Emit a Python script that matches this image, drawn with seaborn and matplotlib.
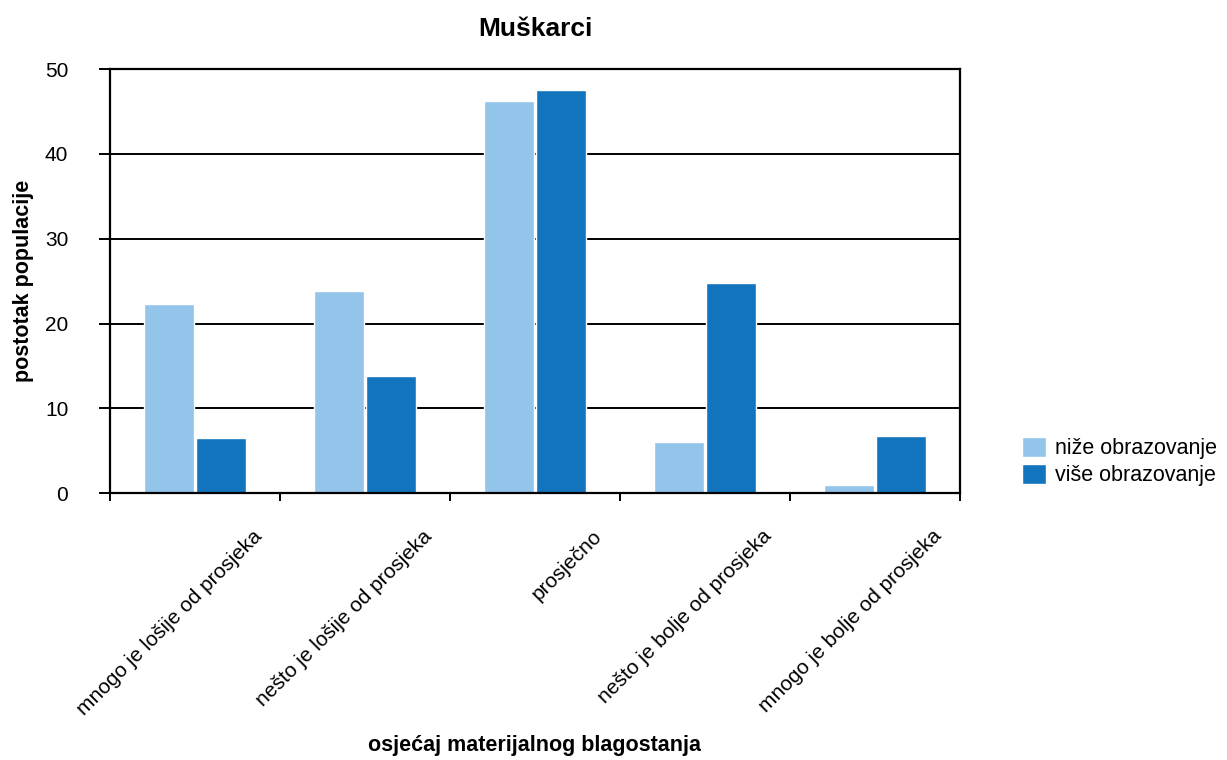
"""Bar chart: osjećaj materijalnog blagostanja, Muškarci."""

import matplotlib
matplotlib.use("Agg")
import matplotlib.pyplot as plt
import matplotlib.transforms as mtransforms
import seaborn as sns
import pandas as pd

categories = [
    "mnogo je lošije od prosjeka",
    "nešto je lošije od prosjeka",
    "prosječno",
    "nešto je bolje od prosjeka",
    "mnogo je bolje od prosjeka",
]
nize = [22.3, 23.9, 46.2, 6.1, 1.0]
vise = [6.5, 13.8, 47.5, 24.8, 6.7]
series_names = ["niže obrazovanje", "više obrazovanje"]
colors = ["#93C5EA", "#1174BC"]

sns.set_theme(style="white")
plt.rcParams["font.family"] = ["Liberation Sans", "DejaVu Sans"]
plt.rcParams["text.color"] = "black"
plt.rcParams["xtick.color"] = "black"
plt.rcParams["ytick.color"] = "black"
plt.rcParams["axes.labelcolor"] = "black"

df = pd.DataFrame({
    "kategorija": categories * 2,
    "postotak": nize + vise,
    "obrazovanje": [series_names[0]] * len(categories) + [series_names[1]] * len(categories),
})

fig = plt.figure(figsize=(12.27, 7.6), dpi=100)
ax = fig.add_axes([0.0896, 0.351, 0.6928, 0.558])

sns.barplot(data=df, x="kategorija", y="postotak", hue="obrazovanje",
            palette=colors, width=0.61, gap=0.04, ax=ax, saturation=1)

ax.set_xlim(-0.5, len(categories) - 0.5)
ax.set_ylim(0, 50)
ax.set_yticks(range(0, 51, 10))
ax.yaxis.grid(True, color="black", linewidth=1.4)
ax.set_axisbelow(True)
for s in ax.spines.values():
    s.set_color("black")
    s.set_linewidth(1.6)

ax.tick_params(axis="y", which="major", length=8, width=1.4, color="black",
               left=True, pad=22, labelsize=15)
ax.set_xticks(range(len(categories)))
ax.set_xticks([i - 0.5 for i in range(len(categories) + 1)], minor=True)
ax.tick_params(axis="x", which="major", length=0, pad=24, labelsize=15)
ax.tick_params(axis="x", which="minor", length=6, width=1.4, color="black",
               bottom=True)
ax.set_xticklabels(categories, rotation=45, ha="right", rotation_mode="anchor")
offset = mtransforms.ScaledTranslation(57 / 100, 0, fig.dpi_scale_trans)
for lbl in ax.get_xticklabels():
    lbl.set_transform(lbl.get_transform() + offset)

ax.set_title("Muškarci", fontsize=19, fontweight="bold", pad=24)
ax.set_xlabel("osjećaj materijalnog blagostanja", fontsize=15.5,
              fontweight="bold", va="center")
ax.xaxis.set_label_coords(0.5, -0.594)
ax.set_ylabel("postotak populacije", fontsize=15.5, fontweight="bold",
              labelpad=8)

handles, labels = ax.get_legend_handles_labels()
ax.legend(handles, labels, loc="center left", bbox_to_anchor=(1.05, 0.075),
          frameon=False, fontsize=15.5, handlelength=1.1, handleheight=1.1,
          handletextpad=0.45, labelspacing=0.2)

fig.savefig("out.png", dpi=100)
